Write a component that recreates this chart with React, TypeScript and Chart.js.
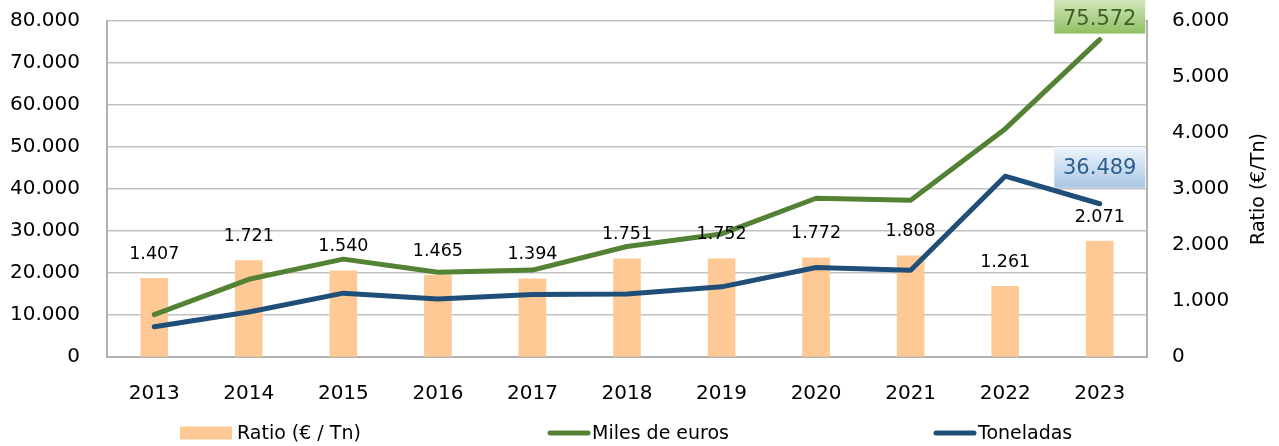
import React, { useEffect, useRef } from 'react';
import { Chart, registerables } from 'chart.js';

Chart.register(...registerables);

const years = ['2013', '2014', '2015', '2016', '2017', '2018', '2019', '2020', '2021', '2022', '2023'];
const ratio = [1407, 1721, 1540, 1465, 1394, 1751, 1752, 1772, 1808, 1261, 2071];
const milesEuros = [10100, 18500, 23300, 20200, 20700, 26300, 29300, 37800, 37300, 54300, 75572];
const toneladas = [7200, 10700, 15200, 13800, 14900, 15000, 16700, 21300, 20630, 43060, 36489];
const leftAxis = { min: 0, max: 80000, step: 10000 };
const rightAxis = { min: 0, max: 6000, step: 1000 };
const legendLabels = ['Ratio (€ / Tn)', 'Miles de euros', 'Toneladas'];
const rightTitle = 'Ratio (€/Tn)';

const FONT = '"DejaVu Sans", "Liberation Sans", sans-serif';
const C_BAR = '#fec994';
const C_GREEN = '#548235';
const C_BLUE = '#1f4e79';
const C_GRID = '#c2c2c2';
const C_BORDER = '#b1b1b1';

const fmt = (v: number) => Math.round(v).toString().replace(/\B(?=(\d{3})+(?!\d))/g, '.');

const overlayPlugin = {
  id: 'overlay',
  afterDatasetsDraw(chart: any) {
    const ctx = chart.ctx;
    ctx.save();
    // ratio labels above bars
    const barMeta = chart.getDatasetMeta(0);
    ctx.font = `17.5px ${FONT}`;
    ctx.fillStyle = '#000';
    ctx.textAlign = 'center';
    ctx.textBaseline = 'middle';
    barMeta.data.forEach((el: any, i: number) => {
      ctx.fillText(fmt(ratio[i]), el.x, el.y - 24);
    });

    // last-point callouts
    const drawCallout = (dsIndex: number, value: number, topOff: number, h: number, nudge: number, c1: string, c2: string, tc: string) => {
      const meta = chart.getDatasetMeta(dsIndex);
      const p = meta.data[meta.data.length - 1];
      const w = 91;
      const x0 = p.x - w / 2;
      const y0 = p.y - topOff;
      const g = ctx.createLinearGradient(0, y0, 0, y0 + h);
      g.addColorStop(0, c1);
      g.addColorStop(1, c2);
      ctx.fillStyle = g;
      ctx.fillRect(x0, y0, w, h);
      ctx.fillStyle = tc;
      ctx.font = `21px ${FONT}`;
      ctx.textAlign = 'center';
      ctx.textBaseline = 'middle';
      ctx.fillText(fmt(value), p.x, y0 + h / 2 + nudge);
    };
    drawCallout(1, milesEuros[milesEuros.length - 1], 40, 34, 3, '#d3e7bd', '#8fc063', '#3f5f25');
    drawCallout(2, toneladas[toneladas.length - 1], 57, 41, 1, '#eef4fb', '#a9c7e6', '#2c5e8e');
    ctx.restore();
  },
  afterDraw(chart: any) {
    const ctx = chart.ctx;
    ctx.save();
    // right axis title (reads bottom to top)
    ctx.font = `19px ${FONT}`;
    ctx.fillStyle = '#000';
    ctx.textAlign = 'center';
    ctx.textBaseline = 'middle';
    ctx.translate(chart.width - 20, 189);
    ctx.rotate(-Math.PI / 2);
    ctx.fillText(rightTitle, 0, 0);
    ctx.restore();

    // legend
    ctx.save();
    ctx.font = `19px ${FONT}`;
    ctx.textBaseline = 'middle';
    ctx.textAlign = 'left';
    ctx.fillStyle = '#000';
    const y = 433;
    const markers = [
      { x: 180, w: 52, gap: 5, kind: 'box', color: C_BAR },
      { x: 548, w: 42, gap: 2, kind: 'line', color: C_GREEN },
      { x: 934, w: 42, gap: 2, kind: 'line', color: C_BLUE },
    ];
    legendLabels.forEach((t, i) => {
      const m = markers[i];
      const x = m.x;
      if (m.kind === 'box') {
        ctx.fillStyle = m.color;
        ctx.fillRect(x, y - 6.5, m.w, 13);
      } else {
        ctx.strokeStyle = m.color;
        ctx.lineWidth = 5;
        ctx.lineCap = 'round';
        ctx.beginPath();
        ctx.moveTo(x + 2, y);
        ctx.lineTo(x + m.w - 2, y);
        ctx.stroke();
      }
      ctx.fillStyle = '#000';
      ctx.fillText(t, x + m.w + m.gap, y + 1);
    });
    ctx.restore();
  },
};

export default function App() {
  const ref = useRef<HTMLCanvasElement | null>(null);
  useEffect(() => {
    if (!ref.current) return;
    const chart = new Chart(ref.current, {
      type: 'bar',
      data: {
        labels: years,
        datasets: [
          {
            type: 'bar',
            label: legendLabels[0],
            data: ratio,
            yAxisID: 'y1',
            backgroundColor: C_BAR,
            barThickness: 27,
            order: 3,
          },
          {
            type: 'line',
            label: legendLabels[1],
            data: milesEuros,
            yAxisID: 'y',
            borderColor: C_GREEN,
            backgroundColor: C_GREEN,
            borderWidth: 5,
            pointRadius: 0,
            tension: 0,
            borderCapStyle: 'round',
            borderJoinStyle: 'round',
            order: 2,
          },
          {
            type: 'line',
            label: legendLabels[2],
            data: toneladas,
            yAxisID: 'y',
            borderColor: C_BLUE,
            backgroundColor: C_BLUE,
            borderWidth: 5,
            pointRadius: 0,
            tension: 0,
            borderCapStyle: 'round',
            borderJoinStyle: 'round',
            order: 1,
          },
        ] as any,
      },
      options: {
        responsive: false,
        animation: false,
        devicePixelRatio: 1,
        layout: { padding: { top: 21, left: 0, right: 0, bottom: 0 } },
        plugins: { legend: { display: false }, tooltip: { enabled: false } },
        scales: {
          x: {
            type: 'category',
            offset: true,
            grid: { display: false, drawTicks: false },
            border: { color: C_BORDER, width: 2 },
            ticks: { color: '#000', font: { family: FONT, size: 20 }, padding: 25, maxRotation: 0 },
            afterFit: (s: any) => { s.height = 89; s.paddingLeft = 0; s.paddingRight = 0; },
          },
          y: {
            position: 'left',
            min: leftAxis.min,
            max: leftAxis.max,
            grid: { color: C_GRID, lineWidth: 1.5, drawTicks: false },
            border: { color: C_BORDER, width: 2 },
            ticks: {
              stepSize: leftAxis.step,
              color: '#000',
              font: { family: FONT, size: 20 },
              padding: 27,
              callback: (v: any) => fmt(Number(v)),
            },
            afterFit: (s: any) => { s.width = 107; s.paddingTop = 0; s.paddingBottom = 0; },
          },
          y1: {
            position: 'right',
            min: rightAxis.min,
            max: rightAxis.max,
            grid: { drawOnChartArea: false, drawTicks: false },
            border: { color: C_BORDER, width: 2 },
            ticks: {
              stepSize: rightAxis.step,
              color: '#000',
              font: { family: FONT, size: 20 },
              padding: 25,
              callback: (v: any) => fmt(Number(v)),
            },
            afterFit: (s: any) => { s.width = 132; s.paddingTop = 0; s.paddingBottom = 0; },
          },
        },
      } as any,
      plugins: [overlayPlugin],
    });
    return () => chart.destroy();
  }, []);
  return (
    <div style={{ position: 'absolute', left: 0, top: 0, width: 1279, height: 446, background: '#fff' }}>
      <canvas ref={ref} width={1279} height={446} />
    </div>
  );
}
